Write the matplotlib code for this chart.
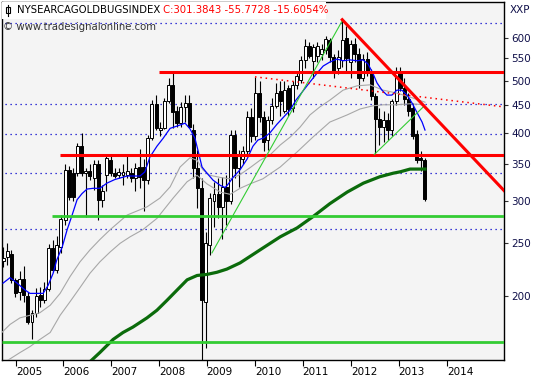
import numpy as np
import matplotlib
matplotlib.use("Agg")
import matplotlib.pyplot as plt
from matplotlib.patches import Rectangle
from matplotlib.ticker import FixedLocator, FixedFormatter, NullLocator

# monthly candles, Oct 2004 .. Apr 2013
opens = [232, 236, 239, 214, 203, 215, 200, 179, 186, 201, 196, 206, 245, 223, 246,
         276, 342, 337, 337, 378, 337, 340, 330, 350, 301, 334, 356, 338, 334, 334,
         335, 338, 330, 346, 346, 327, 392, 452, 405, 409, 458, 490, 440, 418, 447,
         455, 405, 345, 316, 195, 248, 300, 308, 292, 318, 300, 396, 345, 358, 370,
         428, 395, 475, 428, 388, 422, 448, 478, 440, 485, 445, 490, 501, 546, 580,
         543, 555, 560, 569, 594, 553, 528, 546, 600, 540, 585, 560, 505, 548, 520,
         468, 425, 410, 422, 405, 458, 520, 484, 462, 445, 398, 360, 357.1]
highs = [246, 250, 243, 216, 222, 227, 203, 188, 207, 208, 212, 249, 254, 258, 282,
         350, 348, 345, 384, 400, 345, 350, 356, 356, 320, 365, 365, 345, 345, 350,
         365, 345, 352, 373, 358, 396, 460, 470, 420, 465, 505, 519, 449, 456, 470,
         470, 415, 372, 330, 262, 310, 325, 330, 332, 335, 405, 405, 372, 378, 440,
         445, 508, 500, 440, 430, 465, 495, 500, 500, 490, 500, 518, 555, 598, 590,
         585, 590, 585, 605, 600, 560, 570, 648, 630, 595, 600, 575, 560, 565, 525,
         475, 445, 440, 435, 462, 530, 530, 505, 475, 455, 405, 370, 359]
lows = [226, 228, 211, 199, 196, 195, 177, 166, 183, 191, 194, 204, 221, 220, 240,
        270, 301, 300, 333, 333, 280, 327, 314, 276, 292, 313, 333, 330, 330, 320,
        330, 325, 313, 317, 287, 322, 388, 405, 395, 407, 455, 409, 411, 410, 420,
        410, 330, 290, 150, 160, 238, 268, 278, 255, 270, 295, 330, 318, 350, 362,
        385, 388, 420, 370, 372, 415, 445, 430, 435, 430, 438, 482, 495, 527, 550,
        505, 540, 545, 560, 540, 505, 515, 530, 519, 505, 540, 484, 500, 510, 460,
        365, 380, 385, 388, 395, 450, 478, 450, 430, 390, 352, 340, 299]
closes = [235, 242, 214, 202, 215, 201, 179, 186, 200, 196, 206, 245, 223, 248, 277,
          342, 305, 305, 378, 337, 340, 333, 350, 301, 313, 360, 338, 333, 339, 339,
          340, 330, 345, 331, 327, 392, 452, 408, 409, 458, 490, 437, 418, 447, 455,
          410, 345, 316, 196, 250, 303, 308, 292, 318, 300, 396, 345, 362, 370, 428,
          395, 475, 428, 385, 422, 448, 475, 458, 480, 443, 490, 510, 546, 580, 556,
          578, 580, 572, 597, 553, 519, 553, 594, 551, 585, 560, 505, 548, 520, 468,
          425, 410, 422, 405, 458, 520, 484, 462, 440, 395, 357, 357.1, 301.38]

# moving averages (x in candle units)
ma_fast_x = [0, 1.7, 3.4, 5.3, 6.5, 9.7, 10.9, 12.1, 13, 14.3, 15.5, 16.7, 17.9, 19.1,
             20.3, 21.8, 23.4, 25.1, 27, 30, 33.1, 34.3, 35.5, 37.2, 38.7, 40.4, 42.1,
             44, 45.2, 46.4, 47.1, 48.1, 49.3, 50.8, 52.5, 53.7, 54.6, 55.6, 57.3, 59,
             60.4, 61.6, 63.1, 64.5, 66.2, 67.7, 69.4, 70.8, 72.3, 74.2, 75.9, 77.4, 79,
             80.7, 82.2, 83.9, 85.6, 87, 88.2, 89.4, 90.4, 91.6, 92.8, 94, 95.2, 96.4,
             97.7, 98.9, 100.1, 101.3, 102]
ma_fast_v = [211, 216, 211, 205, 202, 202, 209, 220, 233, 246, 265, 282, 301, 309,
             315, 316, 316, 323, 328, 333, 333, 339, 361, 378, 391, 408, 412,
             417, 407, 391, 372, 346, 337, 327, 320, 317, 323, 331, 342, 358,
             378, 388, 392, 400, 415, 427, 441, 460, 476, 497, 516, 532, 541,
             548, 544, 546, 544, 546, 537, 516, 495, 480, 470, 470, 480, 480,
             470, 454, 436, 419, 405]
ma_mid_x = [-0.3, 1.7, 4.1, 6.5, 8.9, 11.4, 13.8, 16.2, 18.6, 21, 23.4, 25.9, 30, 34.8,
            37.9, 40.4, 42.8, 45.2, 46.9, 48.3, 50, 52.5, 54.9, 57.3, 59.7, 62.1, 64.5,
            67, 69.4, 71.8, 74.2, 76.6, 79, 82.2, 85.6, 88.7, 91.9, 95.2, 98.4, 102]
ma_mid_v = [171, 177, 182, 184, 186, 192, 202, 217, 231, 243, 254, 265, 282, 292,
            303, 318, 346, 360, 356, 342, 334, 331, 329, 335, 345, 356, 364,
            380, 393, 410, 432, 447, 460, 480, 489, 491, 480, 474, 466, 456]
ma_slow_x = [1.2, 4.1, 6.5, 8.9, 11.4, 13.8, 16.2, 18.6, 21, 23.4, 25.9, 28.3, 30.7,
             33.8, 37.2, 41.1, 44.5, 46.9, 49.3, 52.5, 54.9, 57.3, 59.7, 62.8, 67, 71.1,
             74.9, 79, 83.2, 86.3, 89.4, 91.9, 95.2, 98.4, 102]
ma_slow_v = [152, 157, 161, 166, 171, 184, 195, 207, 220, 231, 241, 250, 257,
             265, 278, 303, 325, 334, 322, 311, 308, 316, 322, 329, 346, 369,
             393, 419, 432, 443, 449, 451, 451, 453, 451]
ma_long_x = [19.8, 23.4, 26.6, 29, 31.4, 34.8, 37.2, 39.6, 42.1, 44.5, 46.9, 49.3, 51.7,
             54.1, 57.3, 62.8, 67, 71.1, 74.9, 79, 83.2, 87.1, 91.1, 94.3, 96, 98.4, 102]
ma_long_v = [148, 157, 166, 171, 175, 182, 188, 196, 205, 214, 218, 219, 221,
             224, 230, 245, 257, 267, 280, 296, 311, 323, 332, 337, 339, 343, 343]

dotted_levels = [640, 452, 398, 338, 266]
years = ['2005', '2006', '2007', '2008', '2009', '2010', '2011', '2012', '2013', '2014']
year_pos = [3.1, 14.6, 26.1, 37.8, 49.2, 60.9, 72.4, 84.1, 95.6, 107.3]
price_ticks = [200, 250, 300, 350, 400, 450, 500, 550, 600]

X0, X1 = -0.25, 121.1

fig = plt.figure(figsize=(5.4, 3.8), dpi=100)
ax = fig.add_axes([2 / 540, 20 / 380, 502 / 540, 358 / 380])
ax.set_facecolor('#f4f4f4')
ax.set_yscale('log')
ax.set_xlim(X0, X1)
ax.set_ylim(152.1, 698.7)

# dotted levels
for lv in dotted_levels:
    ax.hlines(lv, 0.5, X1, colors='#0000cc', linestyles=(0, (1, 3)), lw=0.9, zorder=1)

# candles
idx = np.arange(len(opens))
o = np.array(opens, float)
c = np.array(closes, float)
up = c >= o
ax.vlines(idx, lows, highs, colors='black', lw=0.8, zorder=2)
ax.bar(idx, np.abs(c - o), bottom=np.minimum(o, c), width=0.72,
       color=np.where(up, 'white', 'black'), edgecolor='black', lw=0.7, zorder=3)

# moving averages
ax.plot(ma_long_x, ma_long_v, color='#0b6b0b', lw=2.3, zorder=4)
ax.plot(ma_slow_x, ma_slow_v, color='#a8a8a8', lw=0.8, zorder=4)
ax.plot(ma_mid_x, ma_mid_v, color='#a8a8a8', lw=0.8, zorder=4)
ax.plot(ma_fast_x, ma_fast_v, color='#0000ff', lw=0.9, zorder=5)

# support / resistance
ax.hlines(164.2, X0, X1, colors='#33cc33', lw=2.0, zorder=5)
ax.hlines(281, 11.9, X1, colors='#33cc33', lw=2.0, zorder=5)
ax.hlines(364, 13.8, X1, colors='#ff0000', lw=2.2, zorder=5)
ax.hlines(519, 37.8, X1, colors='#ff0000', lw=2.2, zorder=5)
ax.plot([82, 121.1], [648, 313], color='#ff0000', lw=2.2, zorder=6)
ax.plot([60.9, 121.1], [508, 447], color='#ff0000', lw=1.1, ls=(0, (1, 2.5)), zorder=5)
ax.plot([50.5, 82], [240, 645], color='#33cc33', lw=0.8, zorder=5)
ax.plot([89.75, 101.6], [365, 447], color='#33cc33', lw=0.8, zorder=5)

# axes
ax.yaxis.tick_right()
ax.yaxis.set_major_locator(FixedLocator(price_ticks))
ax.yaxis.set_major_formatter(FixedFormatter([str(p) for p in price_ticks]))
ax.yaxis.set_minor_locator(NullLocator())
ax.tick_params(axis='y', direction='out', length=3, width=0.8, pad=2,
               labelsize=7.5, labelcolor='#10104a', color='#333333')
ax.set_xticks(year_pos)
ax.set_xticklabels(years, ha='left')
ax.tick_params(axis='x', direction='out', length=4, width=0.8, pad=1, labelsize=7.5)
for lab in ax.get_xticklabels():
    lab.set_x(lab.get_position()[0])
for sp in ax.spines.values():
    sp.set_linewidth(1.0)
    sp.set_color('black')

# header
ax.add_patch(Rectangle((2 / 540, 1 - 19 / 380), 324 / 540, 17 / 380, transform=fig.transFigure,
                       facecolor='white', edgecolor='none', zorder=10, clip_on=False))
ax.add_patch(Rectangle((6 / 540, 1 - 13 / 380), 4 / 540, 6 / 380, transform=fig.transFigure,
                       facecolor='white', edgecolor='black', lw=0.8, zorder=11, clip_on=False))
ax.plot([8 / 540, 8 / 540], [1 - 16 / 380, 1 - 5 / 380], transform=fig.transFigure,
        color='black', lw=0.8, zorder=11, clip_on=False)
t1 = fig.text(17 / 540, 1 - 10 / 380, 'NYSEARCAGOLDBUGSINDEX', fontsize=7.3,
              va='center', ha='left', color='black', zorder=12)
fig.canvas.draw()
bb = t1.get_window_extent()
fig.text(bb.x1 / 540 + 3 / 540, 1 - 10 / 380, 'C:301.3843 -55.7728 -15.6054%', fontsize=7.3,
         va='center', ha='left', color='#ff0000', zorder=12)
fig.text(3 / 540, 1 - 27 / 380, '\u00a9 www.tradesignalonline.com', fontsize=7.3,
         va='center', ha='left', color='#333333', zorder=12)
fig.text(510 / 540, 1 - 10 / 380, 'XXP', fontsize=7.5, va='center', ha='left', color='#10104a')

fig.savefig('out.png', dpi=100, facecolor='white')
